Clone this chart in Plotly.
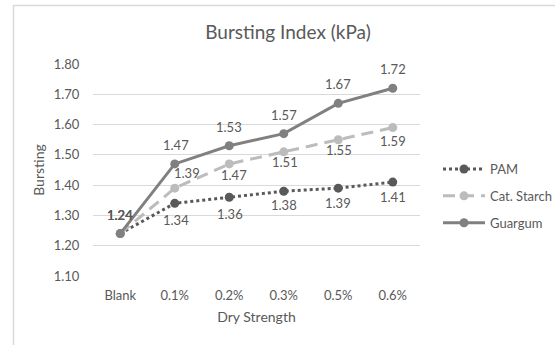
import plotly.graph_objects as go

# Dry-strength additive dosage levels
categories = ["Blank", "0.1%", "0.2%", "0.3%", "0.5%", "0.6%"]

# Bursting index (kPa) for each additive
pam = [1.24, 1.34, 1.36, 1.38, 1.39, 1.41]
cat_starch = [1.24, 1.39, 1.47, 1.51, 1.55, 1.59]
guargum = [1.24, 1.47, 1.53, 1.57, 1.67, 1.72]

series_names = ["PAM", "Cat. Starch", "Guargum"]

W, H = 555, 345
L, R, T, B = 93, 420, 64, 276  # plot area in pixels

TEXT = "#595959"
GRID = "#d9d9d9"
FONT = "Lato"

styles = {
    "PAM": dict(color="#595959", dash="3px,3px"),
    "Cat. Starch": dict(color="#bcbcbc", dash="12px,7px"),
    "Guargum": dict(color="#808080", dash="solid"),
}

# data-label placement per series: (xshift, yshift) for each point (up is positive)
label_shift = {
    "PAM": [(0, 19), (1, -17), (1, -17), (0, -14), (0, -15), (0, -15)],
    "Cat. Starch": [(0, 19), (12, 15), (5, -11), (1, -10), (1, -10), (0, -13)],
    "Guargum": [(0, 19), (1, 19), (0, 19), (0, 19), (0, 19), (0, 19)],
}

fig = go.Figure()
values = {"PAM": pam, "Cat. Starch": cat_starch, "Guargum": guargum}

for name in series_names:
    st = styles[name]
    fig.add_trace(go.Scatter(
        x=categories, y=values[name], name=name,
        mode="lines+markers",
        line=dict(color=st["color"], width=3, dash=st["dash"]),
        marker=dict(color=st["color"], size=9),
        legendgroup=name,
    ))

annotations = []
for name in series_names:
    for cat, v, (dx, dy) in zip(categories, values[name], label_shift[name]):
        annotations.append(dict(
            x=cat, y=v, xref="x", yref="y", text=f"{v:.2f}",
            showarrow=False, xshift=dx, yshift=dy,
            font=dict(family=FONT, size=13, color=TEXT),
        ))

def px_x(p):
    return (p - L) / (R - L)

def px_y(p):
    return (B - p) / (B - T)

fig.update_layout(
    width=W, height=H,
    margin=dict(l=L, r=W - R, t=T, b=H - B, pad=0, autoexpand=False),
    paper_bgcolor="white", plot_bgcolor="white",
    font=dict(family=FONT, color=TEXT, size=13),
    title=dict(text="Bursting Index (kPa)", xref="container", yref="container",
               x=288 / W, y=1 - 32.7 / H, xanchor="center", yanchor="middle",
               font=dict(family=FONT, size=19, color=TEXT)),
    showlegend=True,
    legend=dict(x=px_x(438), y=px_y(154), xanchor="left", yanchor="top",
                font=dict(family=FONT, size=13, color=TEXT),
                itemwidth=42, tracegroupgap=7, bgcolor="rgba(0,0,0,0)"),
    annotations=annotations,
    shapes=[dict(type="rect", xref="paper", yref="paper",
                 x0=px_x(13.5), y0=px_y(360), x1=px_x(570), y1=px_y(5.5),
                 line=dict(color=GRID, width=1.5), layer="below")],
)

fig.update_xaxes(
    showgrid=False, showline=False, zeroline=False,
    ticks="outside", ticklen=7, tickcolor="rgba(0,0,0,0)",
    tickfont=dict(family=FONT, size=13, color=TEXT),
    title=dict(text="Dry Strength", font=dict(family=FONT, size=14, color=TEXT), standoff=10),
    range=[-0.5, 5.5],
)
fig.update_yaxes(
    range=[1.10, 1.80], dtick=0.10, tick0=1.10, tickformat=".2f",
    showgrid=True, gridcolor=GRID, gridwidth=1,
    showline=False, zeroline=False,
    ticks="outside", ticklen=10, tickcolor="rgba(0,0,0,0)",
    tickfont=dict(family=FONT, size=13, color=TEXT),
    title=dict(text="Bursting", font=dict(family=FONT, size=14, color=TEXT), standoff=5),
)

fig.write_html("out.html")
